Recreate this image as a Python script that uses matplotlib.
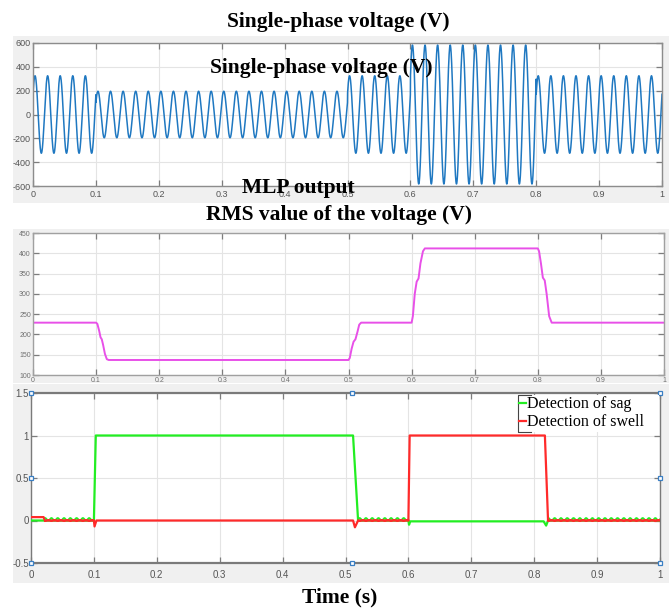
import numpy as np
import matplotlib
matplotlib.use('Agg')
import matplotlib.pyplot as plt
from matplotlib.patches import Rectangle

# figure size in pixels
W, H = 669, 608

# single-phase voltage: segment start times (s) and peak amplitudes (V)
seg_start = [0.0, 0.1, 0.5, 0.6, 0.8]
seg_end = [0.1, 0.5, 0.6, 0.8, 1.0]
seg_amp = [325, 195, 325, 583, 325]
f_grid = 50        # Hz
phase0 = 0.55      # rad, value at t=0 is ~170 V

# RMS value of the voltage
rms_t = [0.0, 0.1, 0.102, 0.105, 0.107, 0.109, 0.111, 0.114, 0.117, 0.12,
         0.5, 0.502, 0.505, 0.508, 0.511, 0.514, 0.517, 0.52,
         0.6, 0.602, 0.605, 0.608, 0.611, 0.614, 0.618, 0.621,
         0.8, 0.802, 0.805, 0.808, 0.811, 0.814, 0.818, 0.822, 1.0]
rms_v = [229, 229, 226, 208, 193, 188, 175, 152, 139, 137,
         137, 142, 165, 182, 188, 205, 224, 229,
         229, 245, 300, 330, 338, 375, 405, 412,
         412, 405, 375, 340, 333, 300, 245, 229, 229]

# MLP output (detection signals), knots
sag_t = [0.0, 0.1, 0.103, 0.512, 0.52, 0.6, 0.601, 0.603, 0.815, 0.819, 0.822, 1.0]
sag_v = [0.0, 0.0, 1.0, 1.0, 0.0, 0.0, -0.05, -0.01, -0.01, -0.06, 0.0, 0.0]
swell_t = [0.0, 0.02, 0.022, 0.1, 0.101, 0.104, 0.512, 0.515, 0.52, 0.6, 0.602,
           0.817, 0.822, 1.0]
swell_v = [0.04, 0.04, 0.0, 0.0, -0.07, 0.0, 0.0, -0.08, 0.0, 0.0, 1.0,
           1.0, 0.0, 0.0]
# small 100 Hz ripple windows on the detection outputs
ripple_win = [(0.022, 0.1), (0.52, 0.6), (0.822, 1.0)]
sag_ripple = (0.015, 0.015)     # offset, amplitude
swell_ripple = (0.0, 0.008)

# tick labels
xticks = [0, 0.1, 0.2, 0.3, 0.4, 0.5, 0.6, 0.7, 0.8, 0.9, 1.0]
xtick_labels = ['0', '0.1', '0.2', '0.3', '0.4', '0.5', '0.6', '0.7', '0.8', '0.9', '1']
v_ticks = [-600, -400, -200, 0, 200, 400, 600]
rms_ticks = [100, 150, 200, 250, 300, 350, 400, 450]
det_ticks = [-0.5, 0, 0.5, 1, 1.5]
det_labels = ['-0.5', '0', '0.5', '1', '1.5']

# scope selection handles on the bottom panel
handle_x = [0, 0.51, 1, 0, 1, 0, 0.51, 1]
handle_y = [1.5, 1.5, 1.5, 0.5, 0.5, -0.5, -0.5, -0.5]


def box(l, t, r, b):
    return [l / W, 1 - b / H, (r - l) / W, (b - t) / H]


def style(ax, size, pad_x, pad_y, spine_c='#8c8c8c', lab_c='#555555'):
    ax.set_facecolor('white')
    ax.grid(True, color='#e4e4e4', lw=0.8)
    ax.set_axisbelow(True)
    ax.tick_params(direction='in', top=True, right=True, length=4, width=0.9,
                   color='#7d7d7d', labelcolor=lab_c, labelsize=size)
    ax.tick_params(axis='x', pad=pad_x)
    ax.tick_params(axis='y', pad=pad_y)
    for s in ax.spines.values():
        s.set_color(spine_c)
        s.set_linewidth(1.0)
    for lab in ax.get_xticklabels() + ax.get_yticklabels():
        lab.set_fontfamily('Liberation Sans')


fig = plt.figure(figsize=(W / 100, H / 100), dpi=100)
fig.patch.set_facecolor('white')

# grey scope backgrounds
for (l, t, r, b) in [(13, 36, 669, 203), (13, 229, 669, 383), (13, 384, 669, 583)]:
    fig.patches.append(Rectangle((l / W, 1 - b / H), (r - l) / W, (b - t) / H,
                                 transform=fig.transFigure, facecolor='#f0f0f0',
                                 edgecolor='none', zorder=-5))

# ---- top panel: voltage waveform
ax1 = fig.add_axes(box(33, 43, 662, 186))
t = np.linspace(0, 1, 20001)
amp = np.zeros_like(t)
for s, e, a in zip(seg_start, seg_end, seg_amp):
    amp[(t >= s) & (t <= e)] = a
v = amp * np.sin(2 * np.pi * f_grid * t + phase0)
ax1.plot(t, v, color='#1f78c1', lw=1.1)
ax1.set_xlim(0, 1)
ax1.set_ylim(-600, 600)
ax1.set_xticks(xticks)
ax1.set_xticklabels(xtick_labels)
ax1.set_yticks(v_ticks)
ax1.set_yticklabels([str(k) for k in v_ticks])
style(ax1, 6.5, 3, 1.5)

# ---- middle panel: RMS value
ax2 = fig.add_axes(box(33, 233, 664, 375))
ax2.plot(rms_t, rms_v, color='#e850e8', lw=1.4)
ax2.set_xlim(0, 1)
ax2.set_ylim(100, 450)
ax2.set_xticks(xticks)
ax2.set_xticklabels(xtick_labels)
ax2.set_yticks(rms_ticks)
ax2.set_yticklabels([str(k) for k in rms_ticks])
style(ax2, 5, 1.5, 1.5, spine_c='#a0a0a0', lab_c='#707070')

# ---- bottom panel: MLP output
ax3 = fig.add_axes(box(31, 393, 660, 563))
ax3.plot(sag_t, sag_v, color='#22ee22', lw=1.6, label='Detection of sag', zorder=3)
ax3.plot(swell_t, swell_v, color='#ff2a2a', lw=1.6, label='Detection of swell', zorder=4)
for s, e in ripple_win:
    tr = np.linspace(s, e, 400)
    ax3.plot(tr, sag_ripple[0] + sag_ripple[1] * np.sin(2 * np.pi * 100 * tr),
             color='#22ee22', lw=1.2, zorder=3)
    ax3.plot(tr, swell_ripple[0] - swell_ripple[1] * np.sin(2 * np.pi * 100 * tr),
             color='#ff2a2a', lw=1.2, zorder=4)
ax3.set_xlim(0, 1)
ax3.set_ylim(-0.5, 1.5)
ax3.set_xticks(xticks)
ax3.set_xticklabels(xtick_labels)
ax3.set_yticks(det_ticks)
ax3.set_yticklabels(det_labels)
style(ax3, 7, 5, 1.5, spine_c='#7a7a7a')
ax3.spines['top'].set_linewidth(1.6)
ax3.spines['bottom'].set_linewidth(1.6)
ax3.plot(handle_x, handle_y, ls='none', marker='s', ms=3.5, mfc='white',
         mec='#3a7fc4', mew=0.9, clip_on=False, zorder=6)

# legend: white box with a bracket-like left border, as in the scope screenshot
lx0, lx1 = (518 - 31) / 629, (659 - 31) / 629
ly0, ly1 = (563 - 432) / 170, (563 - 395) / 170
ax3.add_patch(Rectangle((lx0, ly0), lx1 - lx0, ly1 - ly0, transform=ax3.transAxes,
                        facecolor='white', edgecolor='none', zorder=7))
ax3.plot([lx0 + 0.02, lx0, lx0, lx0 + 0.02], [ly1, ly1, ly0, ly0], color='#444444',
         lw=0.8, transform=ax3.transAxes, zorder=8, clip_on=False)
leg = ax3.legend(loc='upper left', bbox_to_anchor=(lx0 + 0.002, ly1 - 0.008),
                 frameon=False, handlelength=0.45, handletextpad=0.05,
                 borderpad=0.0, labelspacing=0.12, borderaxespad=0.0,
                 prop={'family': 'Liberation Serif', 'size': 11.5})
leg.set_zorder(9)

# overlaid titles (bold serif)
tkw = dict(family='Liberation Serif', weight='bold', ha='center', va='center',
           color='black', fontsize=15.5)
fig.text(338 / W, 1 - 22 / H, 'Single-phase voltage (V)', **tkw)
fig.text(321 / W, 1 - 68 / H, 'Single-phase voltage (V)', **tkw)
fig.text(298 / W, 1 - 188 / H, 'MLP output', **tkw)
fig.text(339 / W, 1 - 215 / H, 'RMS value of the voltage (V)', **tkw)
fig.text(340 / W, 1 - 597 / H, 'Time (s)', **tkw)

fig.savefig('out.png', dpi=100)
